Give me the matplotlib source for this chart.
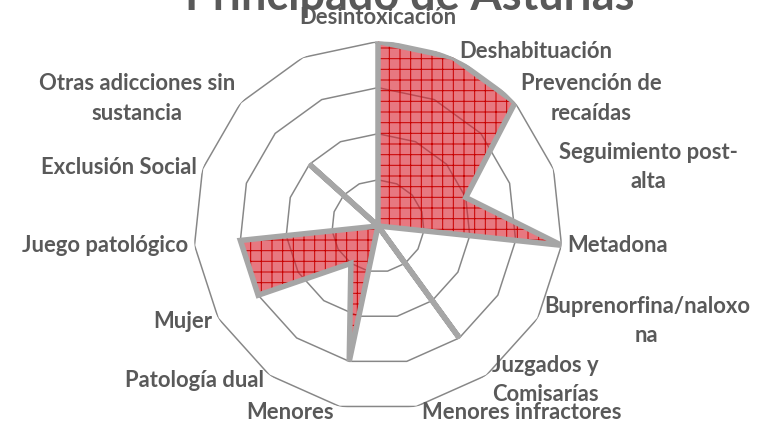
import numpy as np
import matplotlib
matplotlib.use("Agg")
import matplotlib.pyplot as plt

# ---- data ----
categories = [
    "Desintoxicación", "Deshabituación", "Prevención de\nrecaídas",
    "Seguimiento post-\nalta", "Metadona", "Buprenorfina/naloxo\nna",
    "Juzgados y\nComisarías", "Menores infractores", "Menores",
    "Patología dual", "Mujer", "Juego patológico", "Exclusión Social",
    "Otras adicciones sin\nsustancia", "",
]
values = [4, 4, 4, 2, 4, 0, 3, 0, 3, 1, 3, 3, 0, 2, 0]
ring_levels = [1, 2, 3, 4]
title = "Principado de Asturias"

DPI = 64
W, H = 771, 429
PX = 72.0 / DPI  # points per pixel

plt.rcParams["hatch.linewidth"] = 1.0 * PX
fig = plt.figure(figsize=(W / DPI, H / DPI), dpi=DPI)

cx, cy, R = 378, 226, 184.5
ax = fig.add_axes([(cx - R) / W, (H - cy - R) / H, 2 * R / W, 2 * R / H],
                  projection="polar")
ax.set_theta_offset(np.pi / 2)
ax.set_theta_direction(-1)
ax.set_ylim(0, 4)
ax.grid(False)
ax.set_xticks([])
ax.set_yticks([])
ax.spines["polar"].set_visible(False)
ax.patch.set_visible(False)

n = len(categories)
theta = np.arange(n) * 2 * np.pi / n
theta_c = np.append(theta, theta[0])

label_color = "#595959"
ring_color = "#878787"
for lv in ring_levels:
    ax.plot(theta_c, [lv] * (n + 1), color=ring_color, lw=1.5 * PX, zorder=1)

vals_c = np.append(values, values[0])
ax.fill(theta_c, vals_c, facecolor=(0.85, 0.15, 0.2, 0.62),
        edgecolor="#c80000", hatch="+", linewidth=0, zorder=2)
ax.plot(theta_c, vals_c, color="#a6a6a6", lw=5.5 * PX, zorder=3,
        solid_joinstyle="miter")

fs = 22 * PX
for t, lab in zip(theta, categories):
    if not lab:
        continue
    ang = np.pi / 2 - t  # math angle
    c, s = np.cos(ang), np.sin(ang)
    if abs(c) < 0.05:
        ha, dx, dy = "center", 0, 24
    elif c > 0:
        ha, dx, dy = "left", 6, 6 * s
    else:
        ha, dx, dy = "right", -6, 6 * s
    ax.annotate(lab, xy=(t, 4), xytext=(dx * PX, dy * PX),
                textcoords="offset points", ha=ha, va="center",
                multialignment="center", fontsize=fs, fontweight="bold",
                family=["Lato", "DejaVu Sans"], color=label_color,
                linespacing=1.5, annotation_clip=False, zorder=5)

fig.text(410 / W, 1 - 10.5 / H, title, ha="center", va="baseline",
         fontsize=45 * PX, fontweight="bold", family=["Lato", "DejaVu Sans"],
         color=label_color)

fig.savefig("out.png", dpi=DPI)
